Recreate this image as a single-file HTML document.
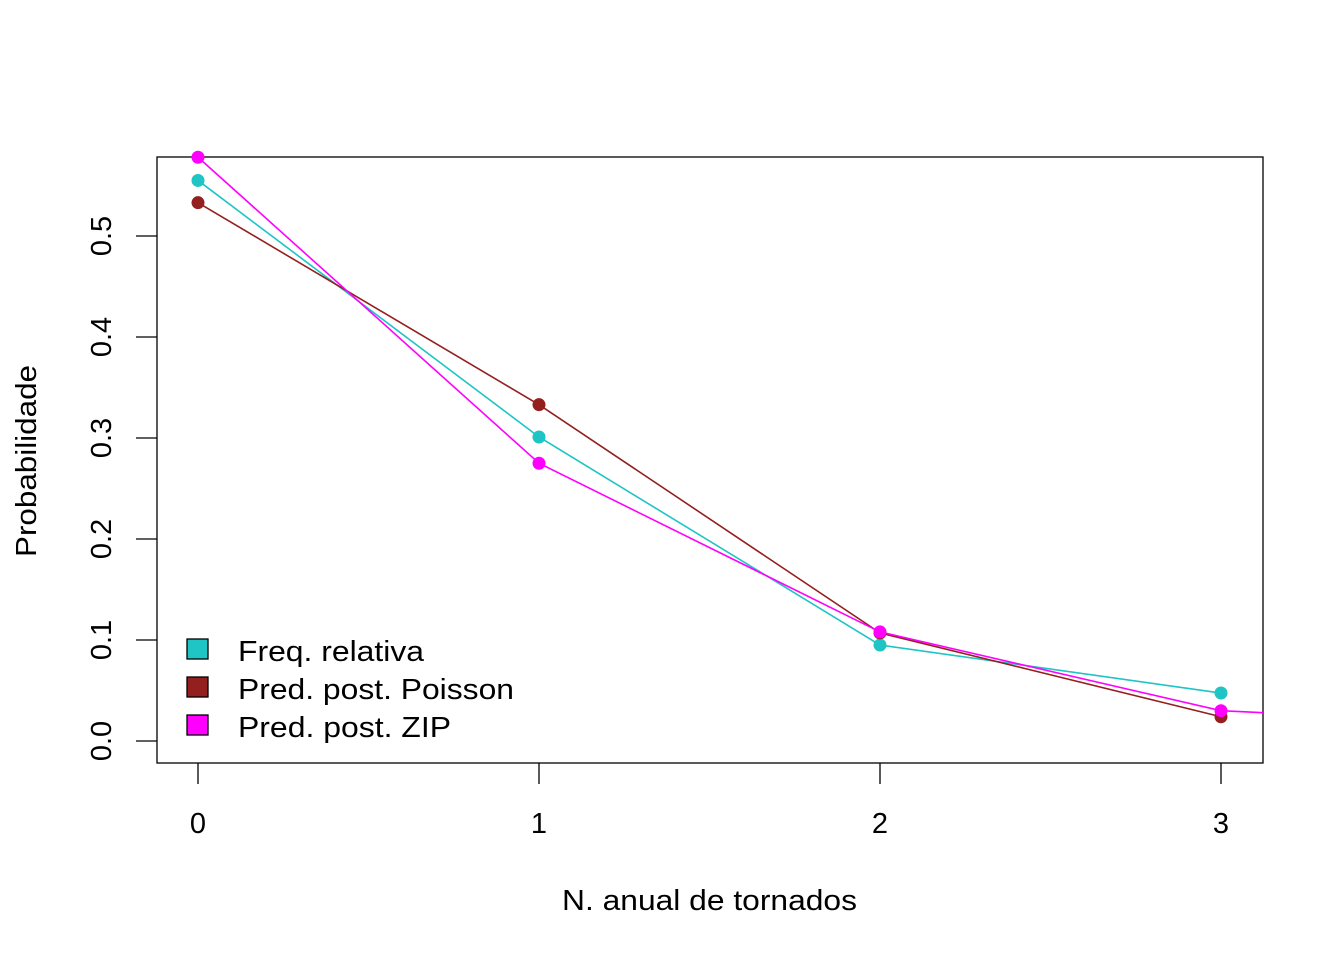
<!DOCTYPE html>
<html><head><meta charset="utf-8"><style>
html,body{margin:0;padding:0;background:#fff;}
svg{display:block;font-family:"Liberation Sans",Arial,sans-serif;}
</style></head><body>
<svg id="chart" width="1344" height="960">
<defs><clipPath id="plotclip"><rect x="157" y="157" width="1106" height="606"/></clipPath></defs>
<rect x="157" y="157" width="1106" height="606" fill="none" stroke="#000" stroke-width="1.3"/>
<g id="axes"></g>
<g id="series" clip-path="url(#plotclip)"></g>
<g id="points"></g>
<text x="562" y="910" font-size="29" textLength="295" lengthAdjust="spacingAndGlyphs">N. anual de tornados</text>
<text transform="translate(36,557) rotate(-90)" font-size="29" textLength="192" lengthAdjust="spacingAndGlyphs">Probabilidade</text>
<g>
<rect x="187" y="639" width="21" height="20" fill="#1fc4c4" stroke="#000" stroke-width="1.3"/>
<text x="238" y="661" font-size="29" textLength="186" lengthAdjust="spacingAndGlyphs">Freq. relativa</text>
<rect x="187" y="677" width="21" height="20" fill="#93201f" stroke="#000" stroke-width="1.3"/>
<text x="238" y="699" font-size="29" textLength="276" lengthAdjust="spacingAndGlyphs">Pred. post. Poisson</text>
<rect x="187" y="715" width="21" height="20" fill="#ff00ff" stroke="#000" stroke-width="1.3"/>
<text x="238" y="737" font-size="29" textLength="213" lengthAdjust="spacingAndGlyphs">Pred. post. ZIP</text>
</g>
</svg>
<script>
const categories = [0, 1, 2, 3];
const freqValues = [0.555, 0.301, 0.095, 0.0475];
const poissonValues = [0.533, 0.333, 0.107, 0.024];
const zipCategories = [0, 1, 2, 3, 4];
const zipValues = [0.578, 0.275, 0.108, 0.030, 0.014];
const xTicks = [0, 1, 2, 3];
const yTicks = [0.0, 0.1, 0.2, 0.3, 0.4, 0.5];
const yTickLabels = ["0.0", "0.1", "0.2", "0.3", "0.4", "0.5"];

const NS = "http://www.w3.org/2000/svg";
function xs(v){ return 198 + v * 341; }
function ys(v){ return 741 - v * 1010; }
function mk(tag, attrs, parent){
  const e = document.createElementNS(NS, tag);
  for (const k in attrs) e.setAttribute(k, attrs[k]);
  parent.appendChild(e); return e;
}
const axes = document.getElementById('axes');
xTicks.forEach((t,i)=>{
  const l = mk('line',{x1:xs(t),x2:xs(t),y1:763,y2:784,stroke:'#000','stroke-width':1.3},axes);
  
  
  const tx = mk('text',{x:xs(t),y:833,'font-size':29,'text-anchor':'middle'},axes);
  tx.textContent = String(t);
  
  
});
yTicks.forEach((t,i)=>{
  const l = mk('line',{x1:136,x2:157,y1:ys(t),y2:ys(t),stroke:'#000','stroke-width':1.3},axes);
  
  
  const tx = mk('text',{transform:`translate(111,${ys(t)}) rotate(-90)`,'font-size':29,'text-anchor':'middle'},axes);
  tx.textContent = yTickLabels[i];
  
  
});
const series = document.getElementById('series');
const points = document.getElementById('points');
function draw(cats, vals, color, name){
  const pl = mk('polyline',{points:cats.map((c,i)=>xs(c)+','+ys(vals[i])).join(' '),fill:'none',stroke:color,'stroke-width':1.6},series);
  
  
  cats.forEach((c,i)=>{
    if (xs(c) > 1263) return;
    const p = mk('circle',{cx:xs(c),cy:ys(vals[i]),r:6.5,fill:color},points);
    
    
  });
}
draw(categories, freqValues, '#1fc4c4', 'freq');
draw(categories, poissonValues, '#93201f', 'poisson');
draw(zipCategories, zipValues, '#ff00ff', 'zip');
</script>
</body></html>
